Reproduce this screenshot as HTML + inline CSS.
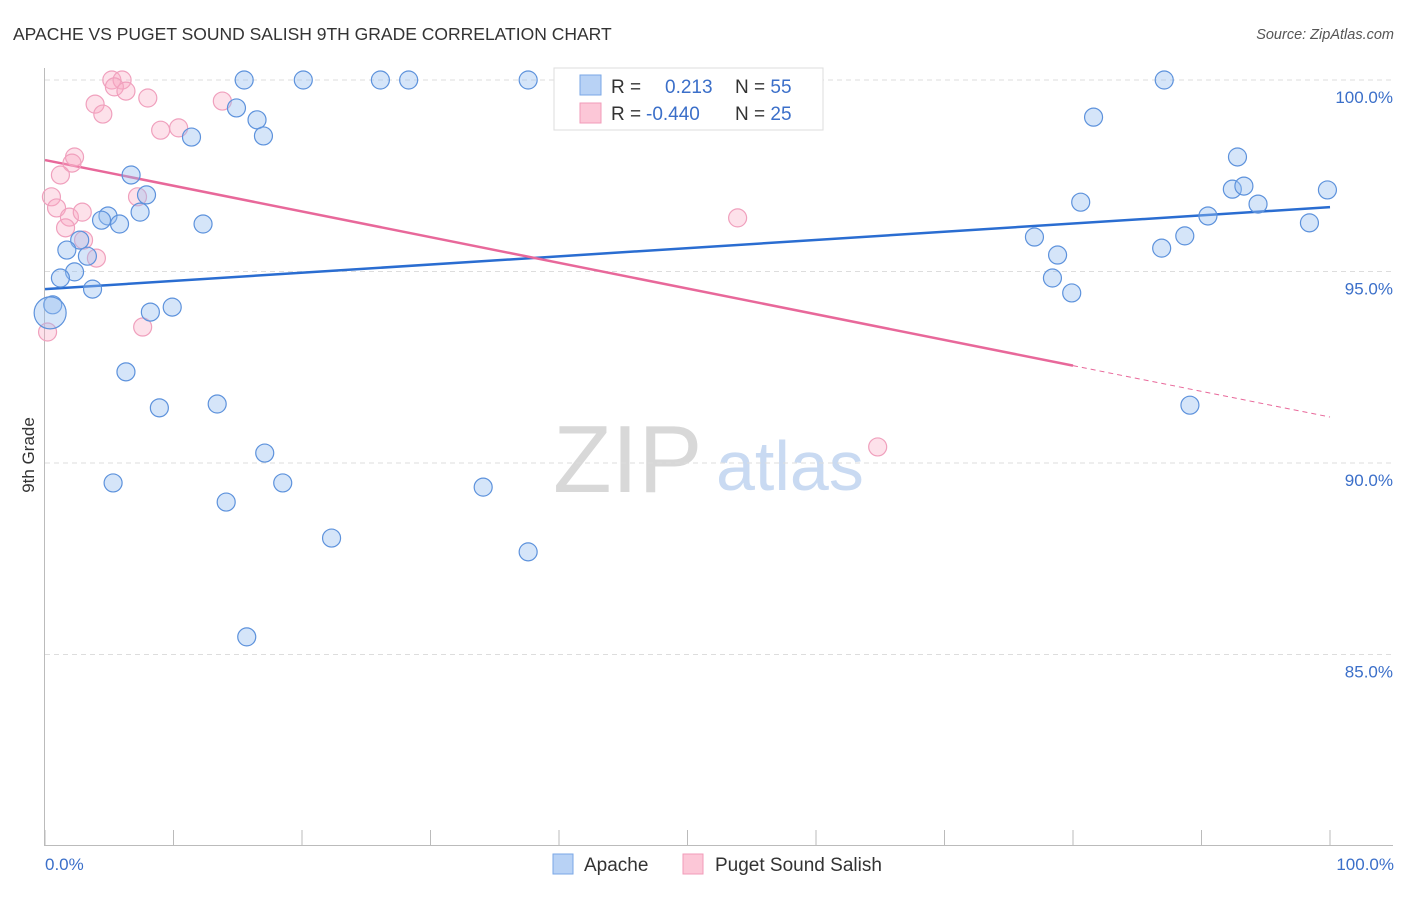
<!DOCTYPE html>
<html><head><meta charset="utf-8"><style>
body{margin:0;background:#fff;font-family:"Liberation Sans",sans-serif;}
svg text{font-family:"Liberation Sans",sans-serif;}
</style></head><body>
<svg width="1406" height="892" xmlns="http://www.w3.org/2000/svg" id="chart">
<text x="13" y="40" font-size="17.5" fill="#333">APACHE VS PUGET SOUND SALISH 9TH GRADE CORRELATION CHART</text>
<text x="1394" y="39" font-size="14.5" fill="#555" font-style="italic" text-anchor="end">Source: ZipAtlas.com</text>
<g>
<text x="553" y="492" font-size="96" fill="#d8d8d8" font-family="Liberation Serif">ZIP</text>
<text x="716" y="490" font-size="70" fill="#c9daf2">atlas</text>
</g>
<g id="grid"></g>
<g id="axes"></g>
<g id="trends"></g>
<g id="points"></g>
<text transform="translate(34,455) rotate(-90)" font-size="17" fill="#333" text-anchor="middle">9th Grade</text>
<text x="45" y="870" font-size="17" fill="#3b6fc9">0.0%</text>
<text x="1394" y="870" font-size="17" fill="#3b6fc9" text-anchor="end">100.0%</text>
<g>
<rect x="554" y="68" width="269" height="62" fill="#fff" stroke="#ddd"/>
<rect x="580" y="75" width="21" height="20" fill="#b8d2f5" stroke="#7aa7e6"/>
<rect x="580" y="103" width="21" height="20" fill="#fcc7d7" stroke="#f29bb8"/>
<text x="611" y="93" font-size="19" fill="#333">R = <tspan x="665" fill="#3b6fc9">0.213</tspan></text>
<text x="735" y="93" font-size="19" fill="#333">N = <tspan fill="#3b6fc9">55</tspan></text>
<text x="611" y="120" font-size="19" fill="#333">R = <tspan x="646" fill="#3b6fc9">-0.440</tspan></text>
<text x="735" y="120" font-size="19" fill="#333">N = <tspan fill="#3b6fc9">25</tspan></text>
</g>
<g>
<rect x="553" y="854" width="20" height="20" fill="#b8d2f5" stroke="#7aa7e6"/>
<text x="584" y="871" font-size="19" fill="#333">Apache</text>
<rect x="683" y="854" width="20" height="20" fill="#fcc7d7" stroke="#f29bb8"/>
<text x="715" y="871" font-size="19" fill="#333">Puget Sound Salish</text>
</g>
</svg>
<script>
const apacheX=[15.5,20.1,26.1,28.3,37.6,42.6,87.1,14.9,16.5,17.0,11.4,81.6,6.7,7.9,7.4,4.9,4.4,5.8,12.3,2.7,1.7,3.3,2.3,1.2,3.7,0.6,0.4,8.2,9.9,6.3,8.9,13.4,17.1,5.3,18.5,14.1,34.1,22.3,37.6,15.7,80.6,77.0,78.8,78.4,79.9,92.8,92.4,93.3,94.4,90.5,88.7,86.9,98.4,99.8,89.1];
const apacheY=[100,100,100,100,100,99.9,100,99.27,98.96,98.54,98.51,99.03,97.52,97.0,96.55,96.45,96.34,96.24,96.24,95.82,95.56,95.40,94.99,94.83,94.54,94.13,93.92,93.94,94.07,92.38,91.44,91.54,90.26,89.48,89.48,88.98,89.37,88.04,87.68,85.46,96.81,95.90,95.43,94.83,94.44,97.99,97.15,97.23,96.76,96.45,95.93,95.61,96.27,97.13,91.51];
const pugetX=[5.2,6.0,5.4,6.3,8.0,3.9,4.5,9.0,10.4,13.8,2.3,2.1,1.2,0.5,0.9,1.9,2.9,1.6,3.0,4.0,7.2,7.6,0.2,53.9,64.8];
const pugetY=[100,100,99.82,99.71,99.53,99.37,99.11,98.69,98.75,99.45,97.99,97.83,97.52,96.95,96.66,96.42,96.55,96.14,95.82,95.35,96.95,93.55,93.42,96.40,90.42];
const apacheTrend=[94.54,96.68];   // y at x=0 and x=100
const pugetTrend=[97.91,91.2];     // y at x=0 and x=100
const pugetSolidEnd=80;
const yTicks=[100,95,90,85];
const yTickLabels=["100.0%","95.0%","90.0%","85.0%"];
const xTicks=[0,10,20,30,40,50,60,70,80,90,100];

const NS="http://www.w3.org/2000/svg";
const X=v=>45+v*12.85;
const Y=v=>80+(100-v)*38.3;
function mk(tag,attrs,parent){const e=document.createElementNS(NS,tag);for(const k in attrs)e.setAttribute(k,attrs[k]);document.getElementById(parent).appendChild(e);return e;}

yTicks.forEach((t,i)=>{
  const l=mk('line',{x1:45,x2:1393,y1:Y(t),y2:Y(t),stroke:'#ddd','stroke-dasharray':'5,4'},'grid');
  
  
  const tx=mk('text',{x:1393,y:Y(t)+23,'font-size':17,fill:'#3b6fc9','text-anchor':'end'},'grid');
  tx.textContent=yTickLabels[i];
  
  
});
const ya=mk('line',{x1:44.5,x2:44.5,y1:68,y2:845,stroke:'#bbb'},'axes');


const xa=mk('line',{x1:44,x2:1393,y1:845.5,y2:845.5,stroke:'#bbb'},'axes');


xTicks.forEach(t=>{
  const l=mk('line',{x1:X(t),x2:X(t),y1:830,y2:845,stroke:'#bbb'},'axes');
  
  
});

const bt=mk('line',{x1:X(0),y1:Y(apacheTrend[0]),x2:X(100),y2:Y(apacheTrend[1]),stroke:'#2a6dd1','stroke-width':2.5},'trends');


const py=x=>pugetTrend[0]+(pugetTrend[1]-pugetTrend[0])*x/100;
const pt=mk('line',{x1:X(0),y1:Y(py(0)),x2:X(pugetSolidEnd),y2:Y(py(pugetSolidEnd)),stroke:'#e8689a','stroke-width':2.5},'trends');


const pd=mk('line',{x1:X(pugetSolidEnd),y1:Y(py(pugetSolidEnd)),x2:X(100),y2:Y(py(100)),stroke:'#e8689a','stroke-width':1,'stroke-dasharray':'5,4'},'trends');



pugetX.forEach((x,i)=>{
  const c=mk('circle',{cx:X(x),cy:Y(pugetY[i]),r:9,fill:'rgba(248,170,196,0.35)',stroke:'#f0a0bd','stroke-width':1.2},'points');
  
  
});
apacheX.forEach((x,i)=>{
  const c=mk('circle',{cx:X(x),cy:Y(apacheY[i]),r:(i===26?16:9),fill:'rgba(150,190,240,0.4)',stroke:'#5d92dc','stroke-width':1.2},'points');
  
  
});
</script>
</body></html>
